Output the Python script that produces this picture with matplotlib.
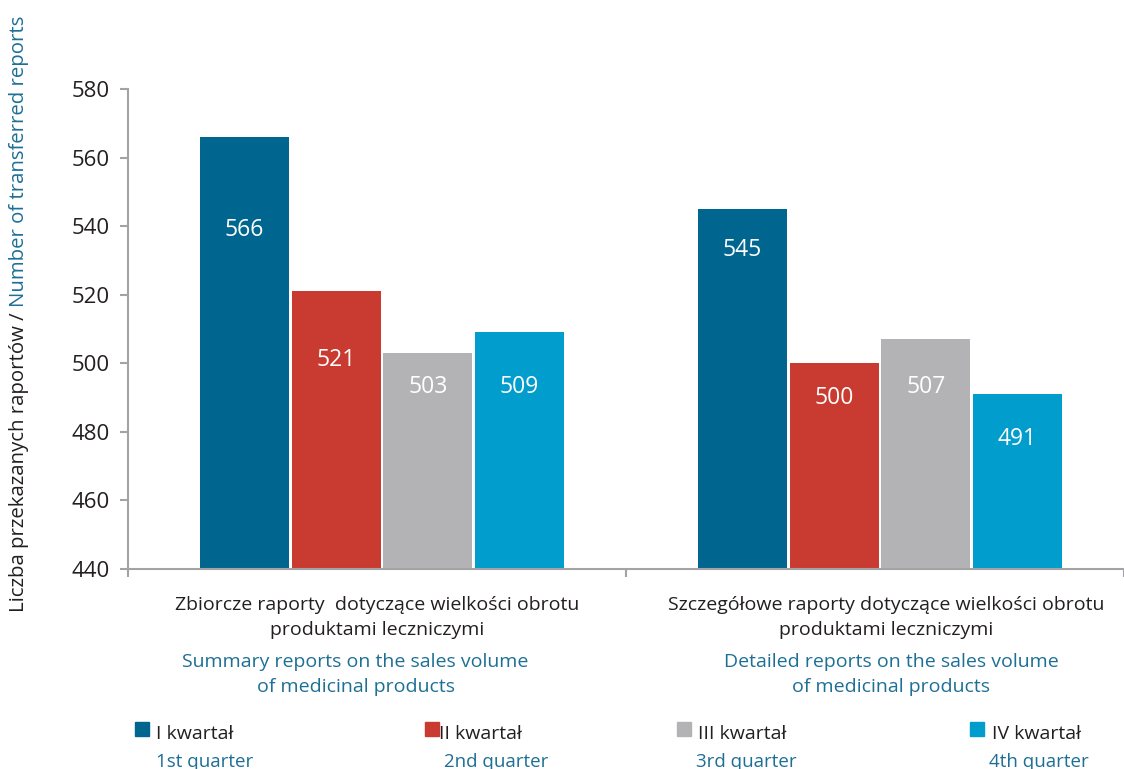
import matplotlib.pyplot as plt
import matplotlib.transforms as mtransforms
import numpy as np

# data
groups_pl = [['Zbiorcze raporty  dotyczące wielkości obrotu', 'produktami leczniczymi'],
             ['Szczegółowe raporty dotyczące wielkości obrotu', 'produktami leczniczymi']]
groups_en = [['Summary reports on the sales volume', 'of medicinal products'],
             ['Detailed reports on the sales volume', 'of medicinal products']]
quarters_pl = ['I kwartał', 'II kwartał', 'III kwartał', 'IV kwartał']
quarters_en = ['1st quarter', '2nd quarter', '3rd quarter', '4th quarter']
q1 = [566, 545]
q2 = [521, 500]
q3 = [503, 507]
q4 = [509, 491]
yticks = [440, 460, 480, 500, 520, 540, 560, 580]

# styling / layout
colors = ['#00668f', '#c93b30', '#b3b3b5', '#009dcd']
dark = '#231f20'
blue = '#1d6f96'
axis_gray = '#a3a3a5'
label_drop = [[27, 12], [20, 10], [10, 14], [16, 13]]  # value label distance below bar top
pl_shift = [0.0, 0.022]     # polish caption x shift per group
en_shift = [-0.043, 0.032]  # english caption x shift per group
sq_x = [135, 425, 677, 970]
pl_x = [156, 439, 698, 992]
en_x = [156, 444, 696, 989]

plt.rcParams['font.family'] = ['Open Sans', 'DejaVu Sans']

W, H = 1124, 769
fig = plt.figure(figsize=(W / 100, H / 100), dpi=100)
ax = fig.add_axes([128 / W, 1 - 569 / H, 1 - 128 / W, (569 - 89) / H])

x = np.arange(len(groups_pl))
width = 0.179
step = 0.184
series = [q1, q2, q3, q4]
for i, (vals, col) in enumerate(zip(series, colors)):
    pos = x + (i - 1.5) * step + 0.01
    ax.bar(pos, np.array(vals) - 440, width, bottom=440, color=col, zorder=2)
    for p, v, d in zip(pos, vals, label_drop[i]):
        ax.text(p, v - d, str(v), ha='center', va='center', color='white', fontsize=16.5)

ax.set_ylim(440, 580)
ax.set_xlim(-0.5, 1.5)
ax.set_yticks(yticks)
ax.set_xticks([-0.5, 0.5, 1.5])
ax.set_xticklabels([])
ax.tick_params(axis='y', labelsize=16, colors=axis_gray, labelcolor=dark, length=6, width=1.5, pad=7)
ax.tick_params(axis='x', colors=axis_gray, length=6, width=1.5)
for s in ['top', 'right']:
    ax.spines[s].set_visible(False)
for s in ['left', 'bottom']:
    ax.spines[s].set_color(axis_gray)
    ax.spines[s].set_linewidth(1.5)

# category labels
trans = mtransforms.blended_transform_factory(ax.transData, fig.transFigure)
for xi, pl, en, ps, es in zip(x, groups_pl, groups_en, pl_shift, en_shift):
    for line, yy in zip(pl, [605, 630]):
        ax.text(xi + ps, 1 - yy / H, line, transform=trans, ha='center', va='center',
                fontsize=14, color=dark)
    for line, yy in zip(en, [662, 687]):
        ax.text(xi + es, 1 - yy / H, line, transform=trans, ha='center', va='center',
                fontsize=14, color=blue)

# y label in two colours
t1 = fig.text(19 / W, 1 - 612 / H, 'Liczba przekazanych raportów / ', rotation=90,
              rotation_mode='anchor', ha='left', va='center', fontsize=14.7, color=dark)
fig.canvas.draw()
bb = t1.get_window_extent()
fig.text(19 / W, bb.y1 / fig.bbox.height, 'Number of transferred reports', rotation=90,
         rotation_mode='anchor', ha='left', va='center', fontsize=14.7, color=blue)

# legend
for sx, px, ex, col, pl, en in zip(sq_x, pl_x, en_x, colors, quarters_pl, quarters_en):
    fig.patches.append(plt.Rectangle((sx / W, 1 - 736 / H), 14 / W, 14 / H,
                                     transform=fig.transFigure, color=col, figure=fig))
    fig.text(px / W, 1 - 739 / H, pl, ha='left', va='baseline', fontsize=14, color=dark)
    fig.text(ex / W, 1 - 767 / H, en, ha='left', va='baseline', fontsize=13.5, color=blue)

fig.savefig('out.png', dpi=100)
